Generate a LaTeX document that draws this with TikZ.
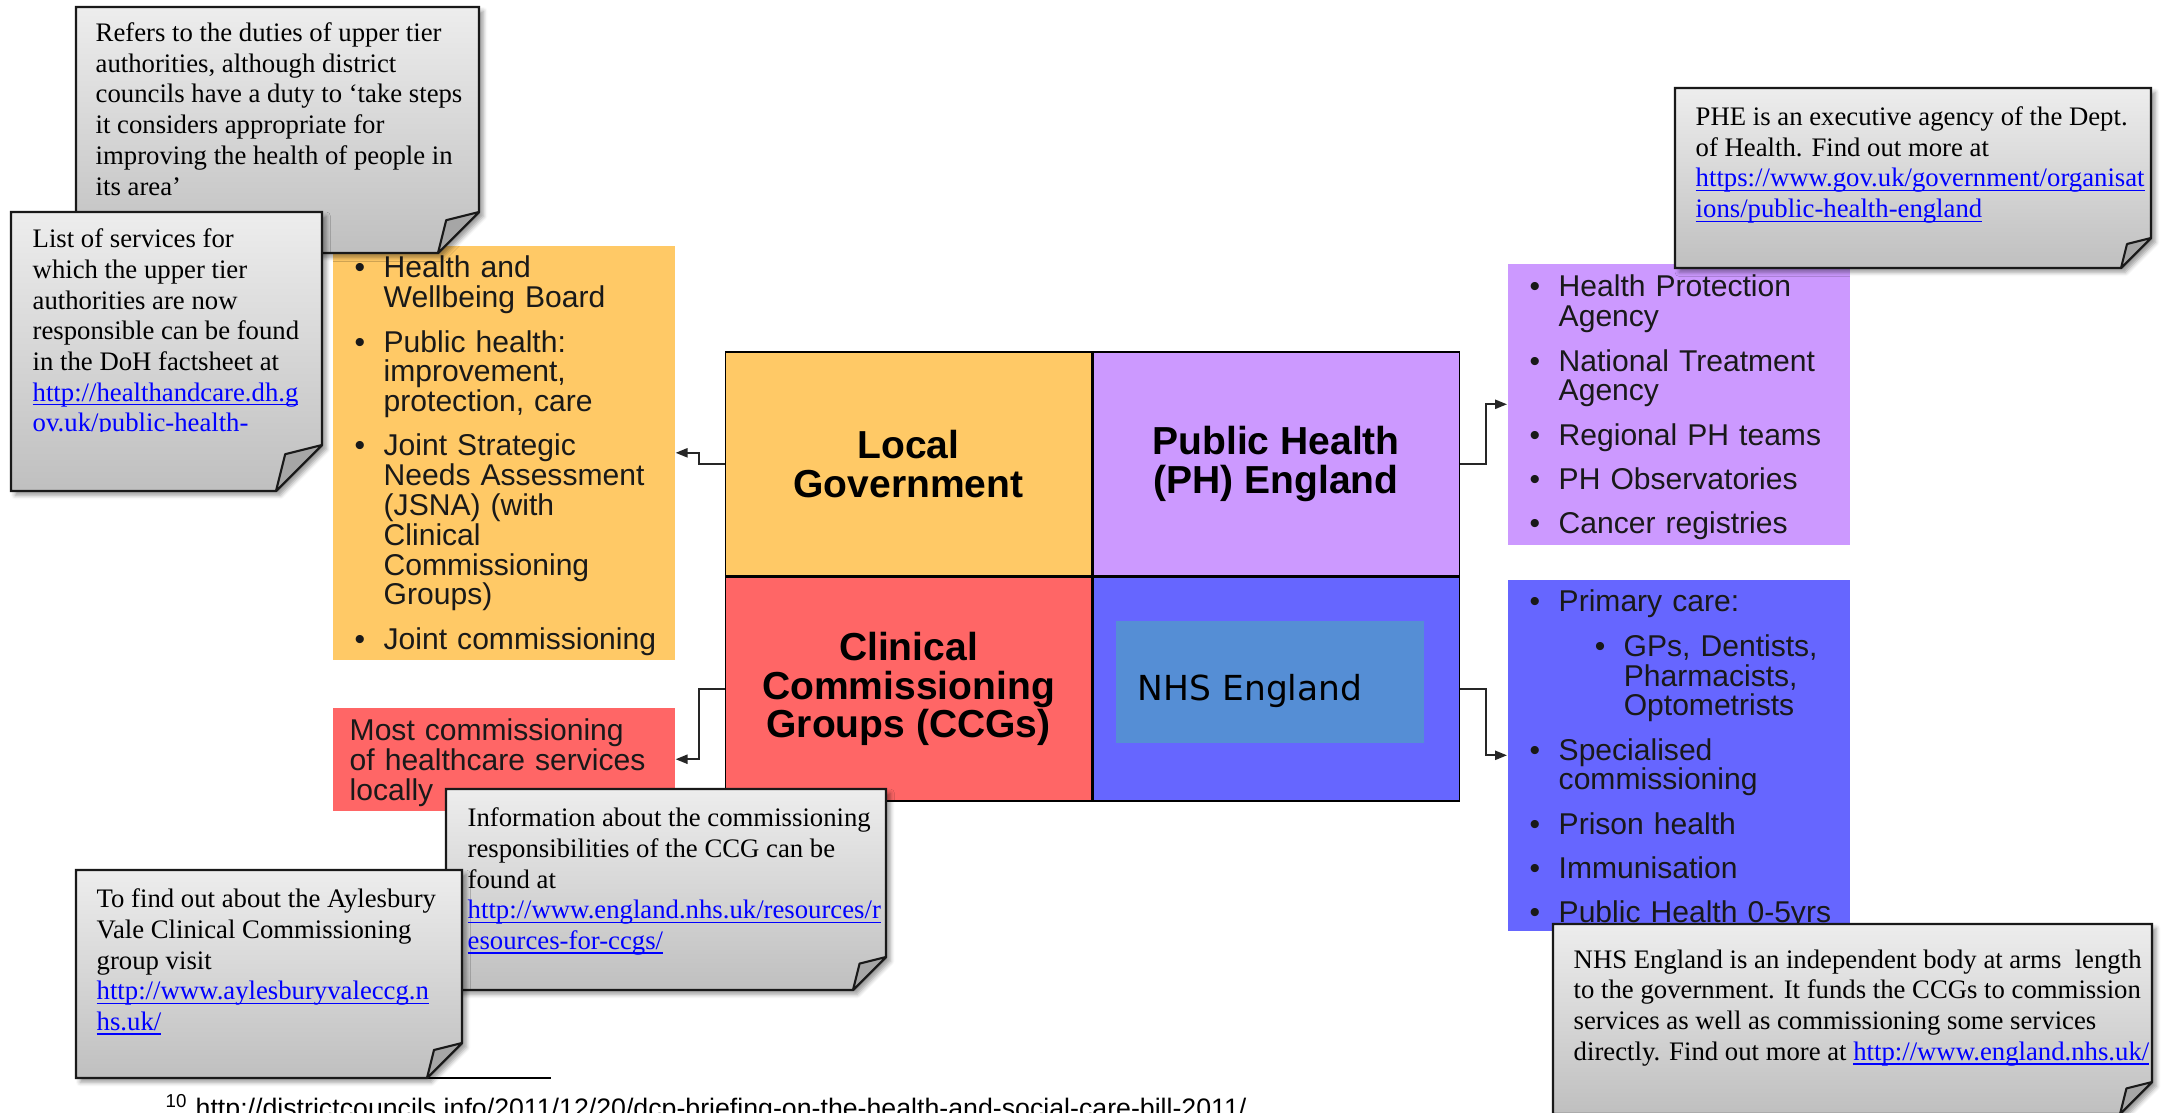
\documentclass[tikz,border=0pt]{standalone}
\usepackage{fontspec}
\setmainfont{Liberation Serif}
\setsansfont{Liberation Sans}
\newfontfamily\nhsfont{DejaVu Sans}
\usetikzlibrary{arrows.meta,positioning,shadows.blur}

\definecolor{lgorange}{HTML}{FFC966}
\definecolor{phpurple}{HTML}{CC99FF}
\definecolor{ccgred}{HTML}{FF6666}
\definecolor{nhsblue}{HTML}{6666FF}
\definecolor{nhsinner}{HTML}{558ED5}
\definecolor{linkblue}{HTML}{0000FF}

% bullet points in the coloured boxes
\newcommand{\blt}[1]{\par\hangindent=2.9mm\hangafter=1\noindent\makebox[2.9mm][l]{\textbullet}#1\par}
\newcommand{\subblt}[1]{\par\hangindent=9.4mm\hangafter=1\noindent\hspace*{6.5mm}\makebox[2.9mm][l]{\textbullet}#1\par}
% underlined web address
\newsavebox{\linkbox}
\newcommand{\weblink}[1]{{\color{linkblue}\sbox{\linkbox}{#1}\rlap{\rule[-1.2pt]{\wd\linkbox}{0.35pt}}\usebox{\linkbox}}}
% note with a folded corner: x1, y1, x2, y2, fold
\newcommand{\stickynote}[5]{%
  \path[notebody] (#1,#2) -- (#3,#2) -- (#3,#4-#5) -- (#3-#5,#4) -- (#1,#4) -- cycle;
  \filldraw[notefold] (#3,#4-#5) -- (#3-0.8*#5,#4-0.8*#5) -- (#3-#5,#4) -- cycle;}

\begin{document}
\begin{tikzpicture}[x=0.01cm,y=-0.01cm,
    cell/.style={draw=black,line width=0.4pt,minimum width=36.6mm,minimum height=22.35mm,inner sep=0pt,align=center,font=\sffamily\bfseries\fontsize{11.1}{11}\selectfont},
    itembox/.style={anchor=north west,inner sep=0pt,minimum width=34.2mm},
    itemtext/.style={anchor=north west,inner sep=0pt,text width=34mm,text=black!90,font=\sffamily\fontsize{8.55}{8.48}\selectfont},
    conn/.style={line width=0.55pt,draw=black!85,-{Triangle[length=3.4pt,width=2.6pt]}},
    notebody/.style={draw=black!90,line width=0.6pt,top color=gray!14,bottom color=gray!50,blur shadow={shadow xshift=1.2pt,shadow yshift=-1.2pt,shadow blur radius=1.2pt,shadow opacity=40}},
    notefold/.style={draw=black!90,line width=0.6pt,line join=round,fill=black!35},
    notetext/.style={anchor=north west,inner sep=0pt,align=left,font=\fontsize{7.6}{8.74}\selectfont}]

    \useasboundingbox (0,0) rectangle (2170,1112);

    % footnote
    \draw [line width=0.6pt] (300,1078) -- (551,1078);
    \node [anchor=base west,inner sep=0pt,font=\sffamily\fontsize{7.6}{8}\selectfont] (fnote) at (165,1117) {\textsuperscript{10} http://districtcouncils.info/2011/12/20/dcp-briefing-on-the-health-and-social-care-bill-2011/};

    % the four bodies
    \node [cell,fill=lgorange] (lg) at (908.5,464) {Local\\Government};
    \node [cell,fill=phpurple,right=0pt of lg] (ph) {Public Health\\(PH) England};
    \node [cell,fill=ccgred,below=0pt of lg] (ccg) {Clinical\\Commissioning\\Groups (CCGs)};
    \node [cell,fill=nhsblue,below=0pt of ph] (nhscell) {};
    \node [fill=nhsinner,minimum width=30.8mm,minimum height=12.1mm,inner sep=0pt] (nhsbox) at (1270,682) {};
    \node [anchor=base west,inner sep=0pt,font=\nhsfont\fontsize{9.8}{11}\selectfont] (nhslabel) at ([shift={(22,18)}]nhsbox.west) {NHS England};

    % what each of them does
    \node [itembox,fill=lgorange,minimum height=41.4mm] (lgitems) at (332,245) {};
    \node [itemtext] (lglist) at ([shift={(22,-12)}]lgitems.north west) {\setlength{\parskip}{4.1pt}%
        \blt{Health and\newline Wellbeing Board}
        \blt{Public health:\newline improvement,\newline protection, care}
        \blt{Joint Strategic\newline Needs Assessment\newline (JSNA) (with\newline Clinical\newline Commissioning\newline Groups)}
        \blt{Joint commissioning}};
    \node [itembox,fill=ccgred,minimum height=10.3mm] (ccgitems) at (332,707) {};
    \node [itemtext,align=left] (ccglist) at ([shift={(17,11)}]ccgitems.north west) {Most commissioning\\of healthcare services\\locally};
    \node [itembox,fill=phpurple,minimum height=28.1mm] (phitems) at (1507,263) {};
    \node [itemtext] (phlist) at ([shift={(22,-11)}]phitems.north west) {\setlength{\parskip}{4.1pt}%
        \blt{Health Protection\newline Agency}
        \blt{National Treatment\newline Agency}
        \blt{Regional PH teams}
        \blt{PH Observatories}
        \blt{Cancer registries}};
    \node [itembox,fill=nhsblue,minimum height=35.1mm] (nhsitems) at (1507,579) {};
    \node [itemtext] (nhslist) at ([shift={(22,-12)}]nhsitems.north west) {\setlength{\parskip}{4.1pt}%
        \blt{Primary care:}
        \subblt{GPs, Dentists,\newline Pharmacists,\newline Optometrists}
        \blt{Specialised\newline commissioning}
        \blt{Prison health}
        \blt{Immunisation}
        \blt{Public Health 0-5yrs}};

    \draw [conn] (lg.west) -- ++(-26,0) |- (lgitems.east);
    \draw [conn] (ccg.west) -- ++(-26,0) |- (ccgitems.east);
    \draw [conn] (ph.east) -- ++(26,0) |- (phitems.west);
    \draw [conn] (nhscell.east) -- ++(26,0) |- (nhsitems.west);

    % notes
    \stickynote{76}{7}{479}{253}{41}
    \node [notetext] (dutiesnote) at (95,22) {Refers to the duties of upper tier\\authorities, although district\\councils have a duty to ‘take steps\\it considers appropriate for\\improving the health of people in\\its area’};

    \stickynote{11}{212}{322}{491}{46}
    \begin{scope}
        \clip (11,212) rectangle (322,431);
        \node [notetext] (factsnote) at (32,228) {List of services for\\which the upper tier\\authorities are now\\responsible can be found\\in the DoH factsheet at\\\weblink{http://healthandcare.dh.g}\\\weblink{ov.uk/public-health-}};
    \end{scope}

    \stickynote{1675}{88}{2151}{268}{30}
    \node [notetext] (phenote) at (1695,106) {PHE is an executive agency of the Dept.\\of Health. Find out more at\\\weblink{https://www.gov.uk/government/organisat}\\\weblink{ions/public-health-england}};

    \stickynote{446}{789}{886}{990}{33}
    \node [notetext] (ccgnote) at (467,807) {Information about the commissioning\\responsibilities of the CCG can be\\found at\\\weblink{http://www.england.nhs.uk/resources/r}\\\weblink{esources-for-ccgs/}};

    \stickynote{76}{870}{462}{1078}{35}
    \node [notetext] (valenote) at (96,888) {To find out about the Aylesbury\\Vale Clinical Commissioning\\group visit\\\weblink{http://www.aylesburyvaleccg.n}\\\weblink{hs.uk/}};

    \stickynote{1553}{924}{2152}{1114}{32}
    \node [notetext] (nhsnote) at (1573,949) {NHS England is an independent body at arms~ length\\to the government. It funds the CCGs to commission\\services as well as commissioning some services\\directly. Find out more at \weblink{http://www.england.nhs.uk/}};
\end{tikzpicture}
\end{document}
